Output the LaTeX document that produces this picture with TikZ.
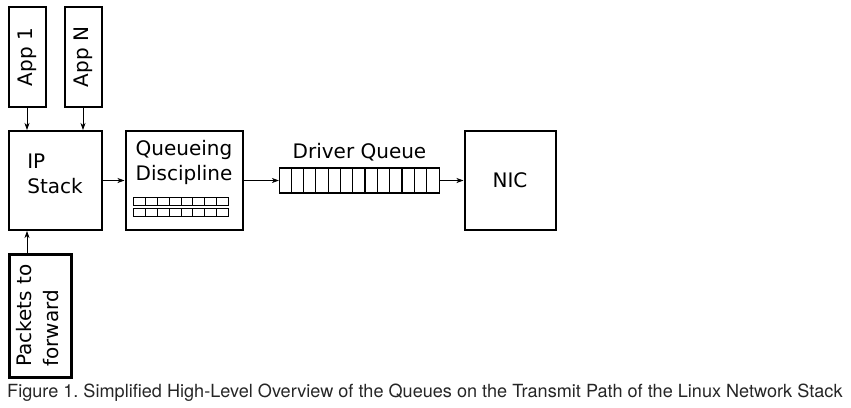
\documentclass[tikz,border=0pt]{standalone}
\usepackage{fontspec}
\setmainfont{DejaVu Sans}
\newfontfamily\capfont{TeX Gyre Heros}
\usetikzlibrary{arrows, arrows.meta, positioning}
\tikzstyle{box} = [rectangle, draw=black, line width=2pt, text centered, inner sep=0pt]
\tikzstyle{appbox} = [box, minimum width=37pt, minimum height=100pt]
\tikzstyle{stackbox} = [box, minimum width=93pt, minimum height=99pt]
\tikzstyle{arrow} = [->, >={Stealth[length=7pt, width=5pt, inset=2pt]}, line width=0.7pt]
\tikzstyle{cell} = [line width=1pt]

\begin{document}
\frenchspacing
\begin{tikzpicture}[x=1pt, y=1pt, every node/.style={font=\fontsize{20}{25}\selectfont}]
\useasboundingbox (0,0) rectangle (851,-407);

\node (ip) [stackbox, align=left, text depth=14pt] at (55,-180.5) {IP\\Stack};
\node (app1) [appbox, above=22pt of ip.north west, anchor=south west] {\rotatebox{90}{App 1}};
\node (appn) [appbox, above=22pt of ip.north east, anchor=south east] {\rotatebox{90}{App N}};
\node (packets) [box, line width=3pt, minimum width=62pt, minimum height=123pt, below=21.5pt of ip.south west, anchor=north west] {\rotatebox{90}{\begin{tabular}{@{}l@{}}Packets to\\[2pt]forward\end{tabular}}};

\node (qdisc) [stackbox, minimum width=117pt, right=22pt of ip] {};
\node (qtext) [below=10pt of qdisc.north, align=center, inner sep=0pt] {Queueing\\Discipline};
\node (drvq) [box, line width=1.2pt, minimum width=160pt, minimum height=25pt, right=35.4pt of qdisc] {};
\node (dqlabel) [above=6pt of drvq, inner sep=0pt] {Driver Queue};
\node (nic) [stackbox, minimum width=91pt, right=23.4pt of drvq] {NIC};

\node (caption) [anchor=base west, inner sep=0pt, text=black!85, font=\capfont\fontsize{18.1}{21}\selectfont] at (7,-397) {Figure 1. Simplified High-Level Overview of the Queues on the Transmit Path of the Linux Network Stack};

% queue cells
\foreach \i in {1,...,12}
  \draw [cell, line width=1.2pt] ([xshift=\i*160/13]drvq.north west) -- ([xshift=\i*160/13]drvq.south west);
\foreach \r in {15,26} {
  \draw [cell] ([shift={(9,\r)}]qdisc.south west) rectangle ++(95,8);
  \foreach \i in {1,...,7}
    \draw [cell] ([shift={(9+\i*95/8,\r)}]qdisc.south west) -- ++(0,8);
}

\draw [arrow] (app1) -- (app1 |- ip.north);
\draw [arrow] (appn) -- (appn |- ip.north);
\draw [arrow] (app1 |- packets.north) -- (app1 |- ip.south);
\draw [arrow] (ip) -- (qdisc);
\draw [arrow] (qdisc) -- (drvq);
\draw [arrow] (drvq) -- (nic);

\end{tikzpicture}
\end{document}
